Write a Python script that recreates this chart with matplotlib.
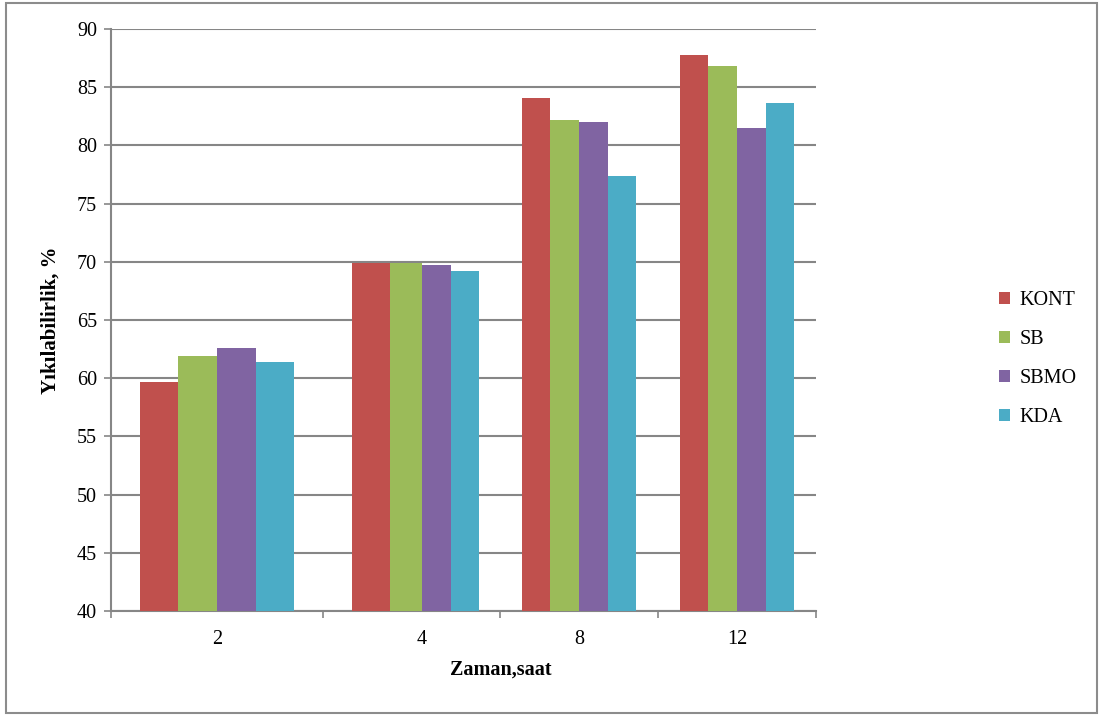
import matplotlib
matplotlib.use("Agg")
import matplotlib.pyplot as plt
import numpy as np
from matplotlib.patches import Rectangle

plt.rcParams['font.family'] = ['Liberation Serif', 'DejaVu Serif']

categories = ["2", "4", "8", "12"]
series_names = ["KONT", "SB", "SBMO", "KDA"]
kont = [59.7, 69.9, 84.1, 87.8]
sb = [61.9, 69.9, 82.2, 86.8]
sbmo = [62.6, 69.7, 82.0, 81.5]
kda = [61.4, 69.2, 77.4, 83.6]
colors = ["#C0504D", "#9BBB59", "#8064A2", "#4BACC6"]

W, H = 1103, 715
fig = plt.figure(figsize=(W / 100, H / 100), dpi=100)
fig.patch.set_facecolor("white")

# outer chart border
fig.add_artist(Rectangle((6 / W, 2 / H), (1097 - 6) / W, (712 - 2) / H,
                         transform=fig.transFigure, fill=False,
                         edgecolor="#8c8c8c", linewidth=1.5))

left, right, top, bottom = 111, 816, 29, 611
ax = fig.add_axes([left / W, 1 - bottom / H, (right - left) / W, (bottom - top) / H])

# horizontal stretch of the category axis (wider on the left)
knot_x = np.array([-0.5, 0.5, 0.818, 1.0, 1.182, 1.5, 2.5, 3.5])
knot_u = np.array([0, 212, 279, 311, 340, 389, 547, 705], dtype=float)


def fwd(v):
    return np.interp(v, knot_x, knot_u, left=-1e6, right=1e6)


def inv(u):
    return np.interp(u, knot_u, knot_x)


ax.set_xscale("function", functions=(fwd, inv))

n = len(categories)
x = np.arange(n, dtype=float)
group = 0.727
bw = group / 4
for i, (name, vals) in enumerate(zip(series_names, [kont, sb, sbmo, kda])):
    ax.bar(x - group / 2 + bw * i, vals, width=bw, align="edge", color=colors[i],
           label=name, zorder=3, linewidth=0)

ax.set_xlim(-0.5, n - 0.5)
ax.set_ylim(40, 90)
ax.set_yticks(np.arange(40, 91, 5))
ax.yaxis.grid(True, color="#868686", linewidth=1.5, zorder=0)
ax.set_axisbelow(True)

ax.set_xticks(x)
ax.set_xticklabels(categories, fontsize=14.5)
ax.set_xticks(np.arange(-0.5, n, 1), minor=True)
ax.xaxis.set_minor_formatter(plt.NullFormatter())
ax.tick_params(axis="x", which="major", length=0, pad=14)
ax.tick_params(axis="x", which="minor", length=5, color="#868686", width=1.2, direction="out")
ax.tick_params(axis="y", length=5, color="#868686", width=1.2, labelsize=14.5, pad=5)

for s in ["top", "right"]:
    ax.spines[s].set_visible(False)
for s in ["left", "bottom"]:
    ax.spines[s].set_color("#868686")
    ax.spines[s].set_linewidth(1.5)

ax.set_xlabel("Zaman,saat", fontsize=14.5, fontweight="bold")
ax.xaxis.set_label_coords((501 - left) / (right - left), -(660 - bottom) / (bottom - top))
ax.set_ylabel("Yıkılabilirlik, %", fontsize=15, fontweight="bold", labelpad=12)

leg = fig.legend(loc="upper left", bbox_to_anchor=(999 / W, 1 - 291 / H),
                 frameon=False, fontsize=14.5, handlelength=0.55, handleheight=0.55,
                 handletextpad=0.45, labelspacing=1.0, borderaxespad=0, borderpad=0)

fig.savefig("out.png", dpi=100, facecolor="white")
